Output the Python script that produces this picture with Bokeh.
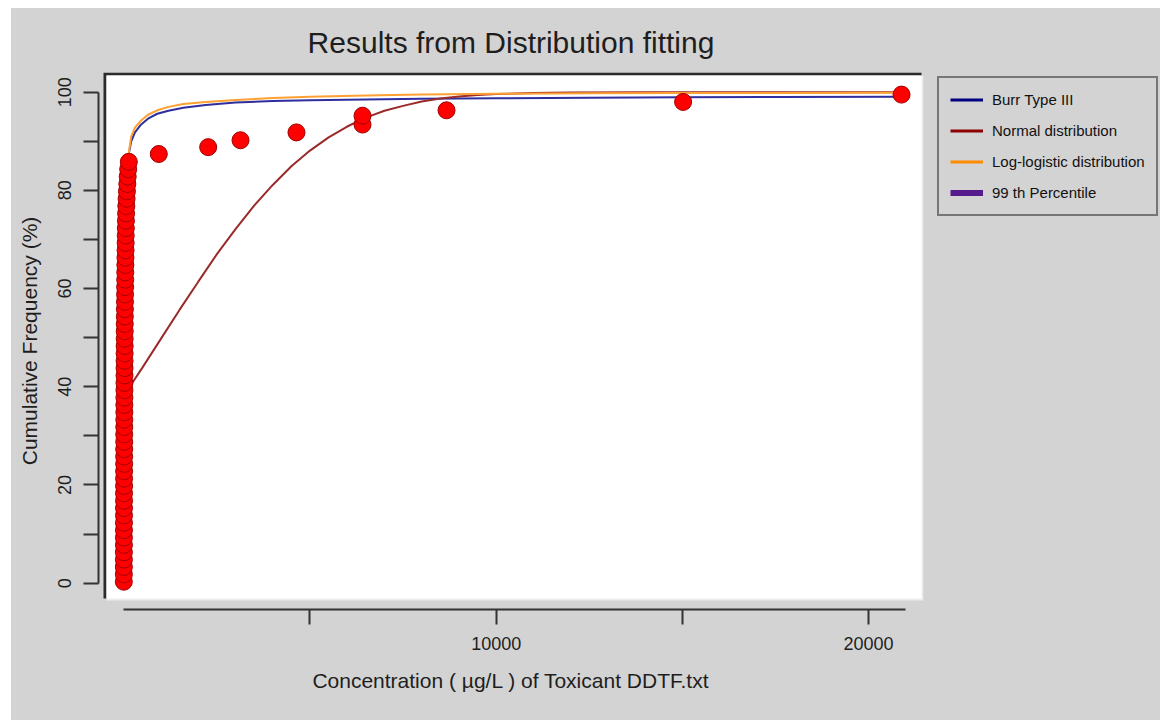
from bokeh.plotting import figure
from bokeh.layouts import column, row
from bokeh.models import (Range1d, FixedTicker, BoxAnnotation, Legend, LegendItem,
                          ColumnDataSource, Node, Spacer)
from bokeh.embed import file_html
from bokeh.resources import INLINE

# ---------------- data ----------------
# observed toxicity values (ug/L) and their cumulative frequency (%)
obs_x = [1, 2, 2, 3, 3, 4, 4, 5, 5, 6, 6, 7, 7, 8, 8, 9, 10, 10, 11, 12,
         12, 13, 14, 15, 15, 16, 17, 18, 19, 20, 21, 22, 23, 24, 25, 26, 28, 30, 32, 34,
         36, 38, 40, 42, 45, 48, 50, 52, 55, 58, 62, 68, 75, 85, 95, 105, 118, 135,
         940, 2266, 3134, 4637, 6410, 6410, 8666, 15019, 20884]
obs_y = [0.3, 1.8, 3.3, 4.8, 6.3, 7.8, 9.3, 10.8, 12.3, 13.8, 15.3, 16.8, 18.3, 19.8,
         21.3, 22.8, 24.3, 25.8, 27.3, 28.8, 30.3, 31.8, 33.3, 34.8, 36.3, 37.8, 39.3,
         40.8, 42.3, 43.8, 45.3, 46.8, 48.3, 49.8, 51.3, 52.8, 54.3, 55.8, 57.3, 58.8,
         60.3, 61.8, 63.3, 64.8, 66.3, 67.8, 69.3, 70.8, 72.3, 73.8, 75.3, 76.8, 78.3,
         79.8, 81.3, 82.8, 84.3, 85.8,
         87.4, 88.8, 90.2, 91.8, 93.4, 95.2, 96.3, 98.0, 99.5]

# fitted curves
curve_x = [110, 200, 300, 450, 650, 900, 1200, 1600, 2200, 3000, 4000, 5000, 6500,
           8000, 10000, 12500, 15000, 17500, 20850]
burr_y = [86.5, 90.0, 91.8, 93.3, 94.6, 95.6, 96.2, 96.8, 97.4, 97.9, 98.2, 98.35,
          98.5, 98.65, 98.75, 98.85, 98.95, 99.0, 99.05]
loglog_y = [86.5, 91.0, 92.8, 94.1, 95.4, 96.3, 97.0, 97.6, 98.0, 98.4, 98.8, 99.05,
            99.3, 99.5, 99.65, 99.75, 99.8, 99.85, 99.9]
normal_x = [150, 500, 1000, 1500, 2000, 2500, 3000, 3500, 4000, 4500, 5000, 5500,
            6000, 6500, 7000, 7500, 8000, 8500, 9000, 9500, 10000, 11000, 12000,
            14000, 17000, 20850]
normal_y = [39.9, 43.9, 49.8, 55.7, 61.4, 67.0, 72.1, 76.9, 81.1, 84.9, 88.1, 90.8,
            93.0, 94.8, 96.2, 97.2, 98.1, 98.7, 99.1, 99.4, 99.6, 99.8, 99.94,
            99.99, 100.0, 100.0]

x_ticks = [5000, 10000, 15000, 20000]
x_tick_labels = ["", "10000", "", "20000"]
y_ticks = [0, 10, 20, 30, 40, 50, 60, 70, 80, 90, 100]
y_tick_labels = ["0", "", "20", "", "40", "", "60", "", "80", "", "100"]

legend_labels = ["Burr Type III", "Normal distribution", "Log-logistic distribution",
                 "99 th Percentile"]
legend_colors = ["#000080", "#8b0000", "#ff8c00", "#551a8b"]
legend_widths = [3, 3, 3, 6]

# ---------------- styling ----------------
BG = "#d3d3d3"
INK = "#1e1e1e"
FONT = "Liberation Sans"

p = figure(width=917, height=712, output_backend="svg", toolbar_location=None,
           x_range=Range1d(-679, 21474), y_range=Range1d(-5.36, 104.0),
           min_border_left=87, min_border_right=5, min_border_top=64,
           min_border_bottom=111,
           background_fill_color=BG, border_fill_color=BG, outline_line_color=None)
p.grid.visible = False

p.title.text = "Results from Distribution fitting"
p.title.align = "center"
p.title.text_font = FONT
p.title.text_font_size = "30px"
p.title.text_font_style = "normal"
p.title.text_color = INK
p.title.offset = 2
p.title.standoff = 28


def frame_box(l, r, t, b, color):
    return BoxAnnotation(
        left=Node(target="frame", symbol="left", offset=l),
        right=Node(target="frame", symbol="right", offset=r),
        top=Node(target="frame", symbol="top", offset=t),
        bottom=Node(target="frame", symbol="bottom", offset=b),
        fill_color=color, fill_alpha=1.0, line_color=None, level="underlay")


p.add_layout(frame_box(5, -2, 0, -11, "#2a2a2a"))
p.add_layout(frame_box(8, 0, 3, -9, "#ededed"))
p.add_layout(frame_box(8, -2, 3, -11, "#ffffff"))

# axes
xa = p.xaxis[0]
xa.ticker = FixedTicker(ticks=x_ticks)
xa.major_label_overrides = {t: s for t, s in zip(x_ticks, x_tick_labels)}
xa.bounds = (0, 21000)
xa.axis_label = "Concentration ( \u00b5g/L ) of Toxicant DDTF.txt"

ya = p.yaxis[0]
ya.ticker = FixedTicker(ticks=y_ticks)
ya.major_label_overrides = {t: s for t, s in zip(y_ticks, y_tick_labels)}
ya.bounds = (0, 100)
ya.axis_label = "Cumulative Frequency (%)"
ya.major_label_orientation = "vertical"

for ax in (xa, ya):
    ax.axis_line_color = "#333333"
    ax.axis_line_width = 2
    ax.major_tick_line_color = "#333333"
    ax.major_tick_line_width = 2
    ax.major_tick_out = 15
    ax.major_tick_in = 0
    ax.minor_tick_out = 0
    ax.minor_tick_in = 0
    ax.major_label_text_font = FONT
    ax.major_label_text_font_size = "18px"
    ax.major_label_text_color = INK
    ax.major_label_standoff = 12
    ax.axis_label_text_font = FONT
    ax.axis_label_text_font_size = "21px"
    ax.axis_label_text_font_style = "normal"
    ax.axis_label_text_color = INK
xa.axis_label_standoff = 16
ya.axis_label_standoff = 15

# curves
p.line(curve_x, burr_y, line_color="#2e2e9e", line_width=2)
p.line(normal_x, normal_y, line_color="#9b2a2a", line_width=2)
p.line(curve_x, loglog_y, line_color="#ffa033", line_width=2)

# observations
p.scatter(obs_x, obs_y, size=17, marker="circle", fill_color="#ff0000",
          line_color="#a00000", line_width=1)

# ---------------- legend, in its own panel to the right ----------------
lf = figure(width=232, height=712, output_backend="svg", toolbar_location=None,
            x_range=Range1d(0, 1), y_range=Range1d(0, 1),
            x_axis_location=None, y_axis_location=None, min_border=0,
            background_fill_color=BG, background_fill_alpha=0.0,
            border_fill_color=BG, border_fill_alpha=0.0, outline_line_color=None)
lf.grid.visible = False

nan = float("nan")
items = []
for lab, col, w in zip(legend_labels, legend_colors, legend_widths):
    src = ColumnDataSource(data=dict(x=[nan, nan], y=[nan, nan]))
    r = lf.line("x", "y", source=src, line_color=col, line_width=w)
    items.append(LegendItem(label=lab, renderers=[r]))

legend = Legend(items=items, location=(9, 393), margin=0, padding=11,
                spacing=10, glyph_width=33, glyph_height=21, label_height=21,
                label_standoff=9, label_text_font=FONT, label_text_font_size="15px",
                label_text_color="#111111", background_fill_color=BG,
                background_fill_alpha=1.0, border_line_color="#1a1a1a",
                border_line_width=2)
lf.add_layout(legend, "center")

inner = row(p, lf, styles={"background-color": BG})
layout = column(Spacer(height=8, width=1160),
                row(Spacer(width=11, height=712), inner))

open("out.html", "w").write(file_html(layout, INLINE))
